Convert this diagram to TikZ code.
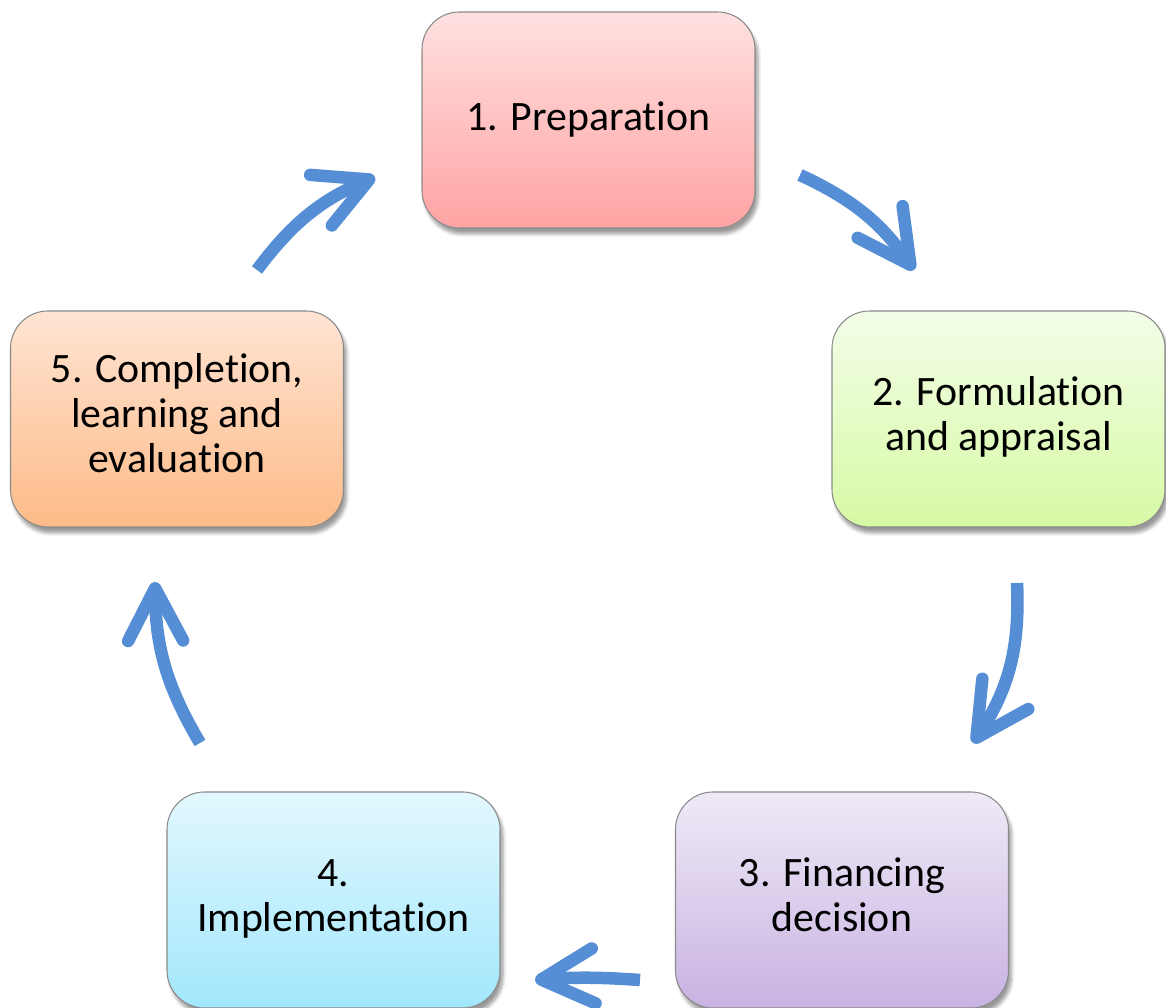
\documentclass[tikz,border=0pt]{standalone}
\usepackage{fontspec}
\setmainfont{Carlito}[Ligatures=NoCommon]
\usetikzlibrary{arrows.meta,shadows.blur}

\definecolor{arrowblue}{HTML}{558ED5}
\definecolor{boxgray}{HTML}{8A8A8A}

\begin{document}
\begin{tikzpicture}[auto, >={Straight Barb[length=10.5mm, width=11mm, round]}]
	\tikzstyle{block} = [draw=boxgray, line width=0.6pt, rectangle, rounded corners=0.75cm, minimum width=6.66cm, minimum height=4.32cm, font=\fontsize{23.8}{25.6}\selectfont, blur shadow={shadow xshift=0.6mm, shadow yshift=-1.2mm, shadow blur steps=6}]
	\tikzstyle{cycle} = [->, draw=arrowblue, line width=0.25cm]

	\useasboundingbox (0,0) rectangle (23.32,20.16);

	\node [block, top color={rgb,255:red,255;green,225;blue,225}, bottom color={rgb,255:red,255;green,163;blue,163}] (prep) at (11.77,17.76) {1. Preparation};
	\node [block, top color={rgb,255:red,243;green,253;blue,232}, bottom color={rgb,255:red,215;green,250;blue,164}] (form) at (19.97,11.78) {%
	  \begin{tabular}{c}
	    2. Formulation\\
	    and appraisal
	  \end{tabular}
	};
	\node [block, top color={rgb,255:red,239;green,234;blue,247}, bottom color={rgb,255:red,200;green,178;blue,226}] (fin) at (16.84,2.16) {%
	  \begin{tabular}{c}
	    3. Financing\\
	    decision
	  \end{tabular}
	};
	\node [block, top color={rgb,255:red,227;green,248;blue,254}, bottom color={rgb,255:red,162;green,231;blue,252}] (impl) at (6.67,2.16) {%
	  \begin{tabular}{c}
	    4.\\
	    Implementation
	  \end{tabular}
	};
	\node [block, top color={rgb,255:red,255;green,228;blue,211}, bottom color={rgb,255:red,253;green,187;blue,136}] (compl) at (3.54,11.78) {%
	  \begin{tabular}{c}
	    5. Completion,\\
	    learning and\\
	    evaluation
	  \end{tabular}
	};

	% arrow ends
	\coordinate (prep-out) at (16.0,16.66);
	\coordinate (form-in) at (18.28,14.76);
	\coordinate (form-out) at (20.34,8.5);
	\coordinate (fin-in) at (19.46,5.3);
	\coordinate (fin-out) at (12.8,0.56);
	\coordinate (impl-in) at (10.7,0.56);
	\coordinate (impl-out) at (4.0,5.3);
	\coordinate (compl-in) at (3.1,8.52);
	\coordinate (compl-out) at (5.14,14.76);
	\coordinate (prep-in) at (7.5,16.62);

	\draw [cycle] (prep-out) to[bend left=15] (form-in);
	\draw [cycle] (form-out) to[bend left=18] (fin-in);
	\draw [cycle] (fin-out) to[bend right=4] (impl-in);
	\draw [cycle] (impl-out) to[bend left=15] (compl-in);
	\draw [cycle] (compl-out) to[bend left=15] (prep-in);
\end{tikzpicture}
\end{document}
